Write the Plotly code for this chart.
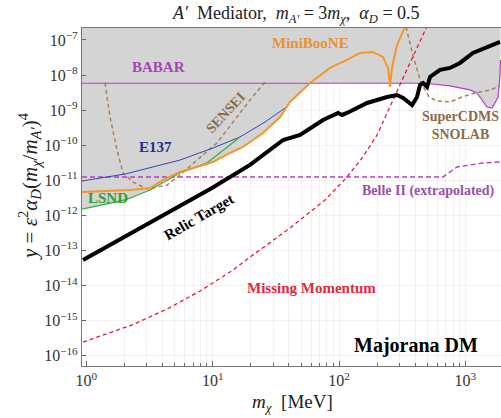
import plotly.graph_objects as go

# ---------------- data (m_chi in MeV, y dimensionless) ----------------
lsnd_x = [0.923, 1.282, 2.023, 3.192, 5.508, 9.016, 12.97, 16.44]
lsnd_y = [1.52e-12, 1.98e-12, 2.75e-12, 5.30e-12, 1.62e-11, 3.12e-11, 8.91e-11, 1.72e-10]

e137_x = [0.923, 2.023, 5.508, 10.05, 16.44, 25.94, 39.45]
e137_y = [9.57e-12, 1.51e-11, 3.79e-11, 8.34e-11, 1.72e-10, 4.59e-10, 1.315e-9]

mb_x = [0.923, 2.213, 3.192, 4.036, 5.508, 7.516, 10.05, 13.71, 17.38, 25.00, 34.12,
        40.93, 58.88, 84.92, 115.6, 146.6, 185.8, 222.8, 244.3, 253.5, 262.4, 287.7,
        326.6, 351.6]
mb_y = [4.65e-12, 5.30e-12, 6.04e-12, 1.02e-11, 1.73e-11, 2.40e-11, 3.33e-11, 6.01e-11,
        8.91e-11, 2.23e-10, 6.38e-10, 1.71e-9, 5.94e-9, 1.59e-8, 2.69e-8, 4.26e-8,
        4.55e-8, 3.27e-8, 1.59e-8, 4.57e-9, 1.59e-8, 7.19e-8, 1.93e-7, 3.7e-7]

babar_x = [0.923, 479.7, 755.1, 1086, 1236, 1355, 1483, 1626, 1718, 1816, 1879, 1897]
babar_y = [5.83e-9, 5.83e-9, 4.89e-9, 3.76e-9, 3.08e-9, 1.95e-9, 1.23e-9, 1.15e-9,
           1.60e-9, 2.37e-9, 1.0e-8, 2.7e-8]

relic_x = [0.940, 9.863, 19.72, 36.06, 49.09, 74.65, 98.17, 105.7, 115.6, 166.7, 239.9,
           287.7, 321.4, 378.4, 414.0, 437.5, 462.4, 497.7, 524.8, 629.5, 755.1, 905.7,
           1148, 1483, 1879]
relic_y = [5.36e-14, 6.04e-12, 2.74e-11, 1.41e-10, 1.96e-10, 5.24e-10, 8.30e-10, 7.28e-10,
           8.30e-10, 1.60e-9, 2.37e-9, 2.70e-9, 2.22e-9, 1.40e-9, 2.37e-9, 5.21e-9,
           5.94e-9, 4.57e-9, 8.81e-9, 1.40e-8, 1.59e-8, 2.21e-8, 4.26e-8, 6.31e-8, 8.77e-8]

mm_x = [0.940, 2.339, 4.345, 7.925, 14.49, 19.72, 40.93, 77.45, 115.6, 152.1, 200.0,
        253.5, 321.4, 414.0, 497.7]
mm_y = [2.46e-16, 7.76e-16, 2.15e-15, 7.00e-15, 2.78e-14, 6.52e-14, 4.38e-13, 2.75e-12,
        1.245e-11, 4.33e-11, 1.96e-10, 1.315e-9, 8.26e-9, 5.92e-8, 2.51e-7]

sensei_x = [1.403, 1.538, 1.746, 1.950, 2.339, 3.020, 4.345, 5.508, 7.516, 10.81, 16.44,
            19.72, 25.94]
sensei_y = [5.94e-9, 6.38e-10, 7.31e-11, 1.62e-11, 8.95e-12, 5.65e-12, 7.36e-12, 1.42e-11,
            3.79e-11, 1.16e-10, 8.30e-10, 1.95e-9, 6.35e-9]

cdms_x = [338.8, 385.5, 445.6, 516.4, 595.7, 755.1, 939.7, 1191, 1567, 1879]
cdms_y = [2.35e-7, 3.50e-8, 5.94e-9, 2.37e-9, 1.82e-9, 1.71e-9, 2.37e-9, 3.08e-9,
          3.76e-9, 4.89e-9]

belle_x = [0.923, 665.3, 859.0, 1380, 1879]
belle_y = [1.245e-11, 1.245e-11, 2.40e-11, 3.12e-11, 3.33e-11]

x_tickvals = [1, 10, 100, 1000]
x_ticktext = ["10<sup>0</sup>", "10<sup>1</sup>", "10<sup>2</sup>", "10<sup>3</sup>"]
y_exps = [-16, -15, -14, -13, -12, -11, -10, -9, -8, -7]
y_tickvals = [10.0 ** e for e in y_exps]
y_ticktext = ["10<sup>\u2212%d</sup>" % (-e) for e in y_exps]
x_minor = [m * 10 ** k for k in range(0, 4) for m in range(2, 10)]

# ---------------- excluded region (envelope of existing limits) ----------------
n_lsnd = 5                      # LSND until it crosses MiniBooNE
i0 = mb_x.index(7.516)          # MiniBooNE from there ...
i1 = mb_x.index(58.88)          # ... until it reaches BaBar
env_x = lsnd_x[:n_lsnd] + mb_x[i0:i1 + 1] + babar_x[1:]
env_y = lsnd_y[:n_lsnd] + mb_y[i0:i1 + 1] + babar_y[1:]
top = 1e-5
fill_x = env_x + [env_x[-1], env_x[0]]
fill_y = env_y + [top, top]

FONT = "Liberation Serif"
fig = go.Figure()
fig.add_trace(go.Scatter(x=fill_x, y=fill_y, mode="lines", fill="toself",
                         fillcolor="#d4d4d4", line=dict(width=0), hoverinfo="skip"))

def line(x, y, color, width, dash="solid"):
    fig.add_trace(go.Scatter(x=x, y=y, mode="lines",
                             line=dict(color=color, width=width, dash=dash)))

line(belle_x, belle_y, "#b23fc2", 1.4, "5px,3px")
line(sensei_x, sensei_y, "#a5825d", 1.5, "4px,3px")
line(cdms_x, cdms_y, "#a5825d", 1.5, "4px,3px")
line(e137_x, e137_y, "#3347b5", 1.0)
line(lsnd_x, lsnd_y, "#3fae3f", 1.3)
line(babar_x, babar_y, "#b23fc2", 1.2)
line(mb_x, mb_y, "#f5962a", 2.0)
line(mm_x, mm_y, "#e51c38", 1.3, "4px,3px")
line(relic_x, relic_y, "black", 4.0)

# plot area spans page x 82..501, y 28..366 (body margin removed below)
def px(x):
    return (x - 82) / 419.0

def py(y):
    return (366 - y) / 338.0

anns = [
    ("<b>BABAR</b>", 158, 67, "#a447b5", 15, 0),
    ("<b>MiniBooNE</b>", 310, 43, "#ec8f2c", 15, 0),
    ("<b>SENSEI</b>", 226, 113, "#8c6a47", 14, -47),
    ("<b>E137</b>", 155, 147, "#252f8f", 15, 0),
    ("<b>LSND</b>", 108, 198, "#2fa23a", 15, 0),
    ("<b>Relic Target</b>", 199, 217, "black", 15, -30),
    ("<b>Missing Momentum</b>", 311, 288, "#e02a3c", 15, 0),
    ("<b>SuperCDMS</b><br><b>SNOLAB</b>", 460, 125, "#8c6a47", 14, 0),
    ("<b>Belle II</b> <b>(extrapolated)</b>", 428, 191, "#9a50aa", 14, 0),
    ("<b>Majorana DM</b>", 416, 345, "black", 20, 0),
]
for t, x, y, c, s, a in anns:
    fig.add_annotation(text=t, x=px(x), y=py(y), xref="paper", yref="paper",
                       showarrow=False, textangle=a, xanchor="center", yanchor="middle",
                       font=dict(family=FONT, size=s, color=c))

fig.add_annotation(text="<i>A\u2032</i>  Mediator,  <i>m</i><sub><i>A\u2032</i></sub> = 3<i>m</i><sub><i>\u03c7</i></sub>,  <i>\u03b1</i><sub><i>D</i></sub> = 0.5",
                   x=px(296), y=py(14), xref="paper", yref="paper", showarrow=False,
                   xanchor="center", yanchor="middle", font=dict(family=FONT, size=18, color="#222"))
fig.add_annotation(text="<i>y</i> = <i>\u03b5</i><sup>2</sup><i>\u03b1</i><sub><i>D</i></sub>(<i>m</i><sub><i>\u03c7</i></sub>/<i>m</i><sub><i>A\u2032</i></sub>)<sup>4</sup>",
                   x=px(30), y=py(186), xref="paper", yref="paper", showarrow=False,
                   textangle=-90, xanchor="center", yanchor="middle",
                   font=dict(family=FONT, size=21, color="#222"))
fig.add_annotation(text="<i>m</i><sub><i>\u03c7</i></sub>  [MeV]",
                   x=px(292), y=py(403), xref="paper", yref="paper", showarrow=False,
                   xanchor="center", yanchor="middle", font=dict(family=FONT, size=19, color="#222"))

grid = "rgba(0,0,0,0.05)"
fig.update_xaxes(type="log", range=[-0.035, 3.282], tickmode="array", automargin=False,
                 tickvals=x_tickvals, ticktext=x_ticktext, ticks="inside", ticklen=5,
                 tickcolor="#666", showline=True, linecolor="#777", linewidth=1.2, mirror=True,
                 showgrid=True, gridcolor=grid, zeroline=False,
                 minor=dict(tickmode="array", tickvals=x_minor, ticks="inside", ticklen=3,
                            tickcolor="#666", showgrid=True, gridcolor=grid),
                 tickfont=dict(family=FONT, size=16, color="#333"))
fig.update_yaxes(type="log", range=[-16.29, -6.66], tickmode="array", automargin=False,
                 tickvals=y_tickvals, ticktext=y_ticktext, ticks="inside", ticklen=4,
                 tickcolor="#666", showline=True, linecolor="#777", linewidth=1.2,
                 showgrid=True, gridcolor=grid, zeroline=False,
                 tickfont=dict(family=FONT, size=16, color="#333"))

fig.update_layout(width=501, height=418, margin=dict(l=82, r=0, t=28, b=52),
                  plot_bgcolor="white", paper_bgcolor="white", showlegend=False)

fig.write_html("out.html", config={"displayModeBar": False},
               post_script="document.body.style.margin='0';document.body.style.overflow='hidden';")
